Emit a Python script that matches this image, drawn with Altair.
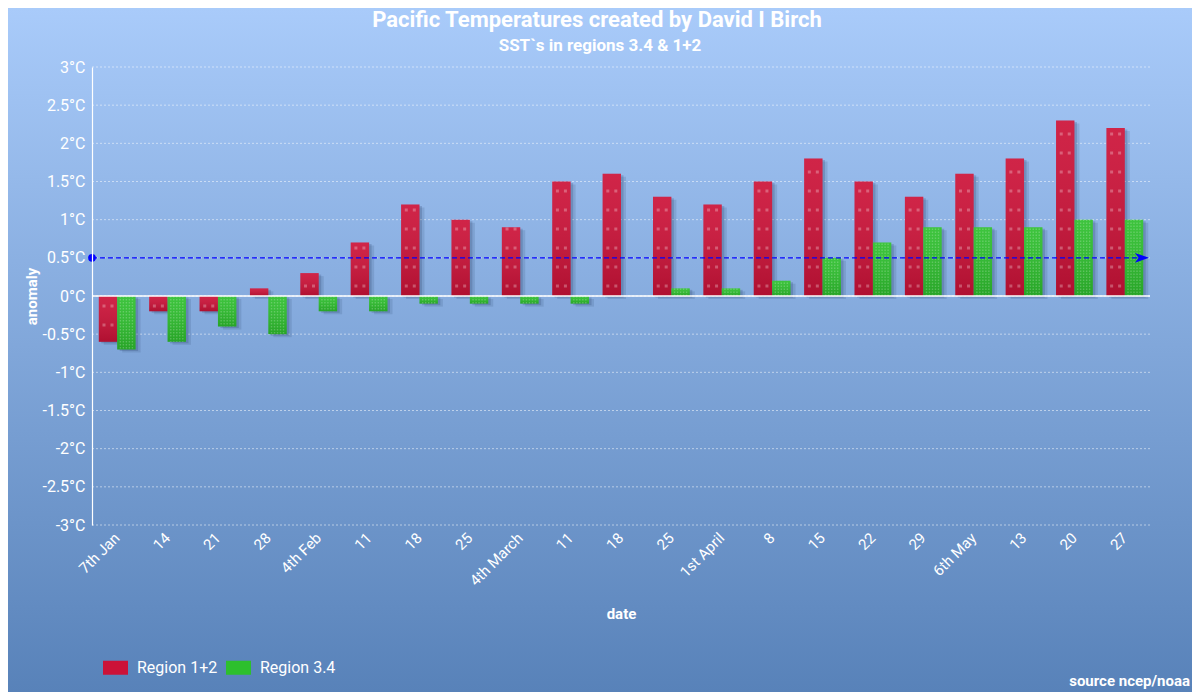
import altair as alt
import pandas as pd

labels = ["7th Jan", "14", "21", "28", "4th Feb", "11", "18", "25", "4th March",
          "11", "18", "25", "1st April", "8", "15", "22", "29", "6th May", "13", "20", "27"]
region12 = [-0.6, -0.2, -0.2, 0.1, 0.3, 0.7, 1.2, 1.0, 0.9, 1.5, 1.6, 1.3, 1.2,
            1.5, 1.8, 1.5, 1.3, 1.6, 1.8, 2.3, 2.2]
region34 = [-0.7, -0.6, -0.4, -0.5, -0.2, -0.2, -0.1, -0.1, -0.1, -0.1, 0.0, 0.1, 0.1,
            0.2, 0.5, 0.7, 0.9, 0.9, 0.9, 1.0, 1.0]
series = ["Region 1+2", "Region 3.4"]
colors = ["#cc1238", "#2dbf2d"]
yticks = [-3, -2.5, -2, -1.5, -1, -0.5, 0, 0.5, 1, 1.5, 2, 2.5, 3]
ref_value = [0.5]
title_text = "Pacific  Temperatures created by David I Birch"
subtitle_text = "SST`s in regions 3.4 & 1+2"
source_text = "source ncep/noaa"

W, H = 1058, 458
PL, PT, PR, PB = 84, 59, 42, 167
PAD_IN = 0.27
BW = W / 21 * (1 - PAD_IN)  # width of one group band

rows = []
for i, lab in enumerate(labels):
    rows.append({"idx": i, "region": series[0], "value": region12[i], "base": 0.0})
    rows.append({"idx": i, "region": series[1], "value": region34[i], "base": 0.0})
df = pd.DataFrame(rows)
one = pd.DataFrame({"v": ref_value})
grid_df = pd.DataFrame({"v": yticks})

label_expr = "[" + ",".join("'%s'" % l for l in labels) + "][datum.value]"

yscale = alt.Scale(domain=[-3, 3])
yaxis = alt.Axis(values=yticks, labelExpr="datum.value + '°C'", grid=False, domainColor="white",
                 domainWidth=1.2, ticks=False, labelColor="white", labelFontSize=16, labelPadding=7,
                 labelOverlap=False, title="anomaly", titleColor="white", titleFontSize=15,
                 titleFontWeight="bold", titleX=-56, titleY=H / 2, titleBaseline="alphabetic", zindex=1)
xenc = alt.X("idx:O", scale=alt.Scale(paddingInner=PAD_IN, paddingOuter=PAD_IN / 2),
             axis=alt.Axis(labelExpr=label_expr, labelAngle=315, labelAlign="right", labelBaseline="middle",
                           labelPadding=10, labelColor="white", labelFontSize=15, domain=False, ticks=False,
                           grid=False, title="date", titleColor="white", titleFontSize=15,
                           titleFontWeight="bold", titleY=81, zindex=1))
yenc = alt.Y("value:Q", scale=yscale, axis=yaxis)


def xoff(shift=0.0):
    return alt.XOffset("region:N", sort=series,
                       scale=alt.Scale(domain=series, range=[shift, BW + shift]))


bg = alt.Chart(pd.DataFrame({"a": [0]})).mark_rect(
    color=alt.LinearGradient(
        gradient="linear",
        stops=[alt.GradientStop(color="#a9cbfa", offset=0),
               alt.GradientStop(color="#5882b9", offset=1)],
        x1=0, x2=0, y1=0, y2=1)
).encode(x=alt.value(-PL), x2=alt.value(W + PR), y=alt.value(-PT), y2=alt.value(H + PB))

grid = alt.Chart(grid_df).mark_rule(color="white", strokeOpacity=0.5, strokeDash=[2, 2], strokeWidth=1).encode(
    y=alt.Y("v:Q", scale=yscale, axis=yaxis), x=alt.value(0), x2=alt.value(W))

shadow1 = alt.Chart(df).mark_bar(color="#14264d", opacity=0.12, yOffset=3).encode(
    x=xenc, xOffset=xoff(5), y=yenc)
shadow2 = alt.Chart(df).mark_bar(color="#14264d", opacity=0.18, yOffset=1.5).encode(
    x=xenc, xOffset=xoff(2.5), y=yenc)

bars = alt.Chart(df).mark_bar().encode(
    x=xenc,
    xOffset=xoff(0),
    y=yenc,
    color=alt.Color("region:N", scale=alt.Scale(domain=series, range=colors),
                    legend=alt.Legend(title=None, orient="none", legendX=11, legendY=588, direction="horizontal",
                                      symbolType="M-1,-0.56H1V0.56H-1Z", symbolSize=625, symbolStrokeWidth=0,
                                      symbolOpacity=1, labelColor="white", labelFontSize=16, labelOffset=9,
                                      columnPadding=8, zindex=1)),
)

shade = alt.Chart(df).mark_bar(
    color=alt.LinearGradient(
        gradient="linear",
        stops=[alt.GradientStop(color="rgba(255,255,255,0.08)", offset=0),
               alt.GradientStop(color="rgba(0,0,0,0.14)", offset=1)],
        x1=0, x2=0, y1=0, y2=1)
).encode(x=xenc, xOffset=xoff(0), y=yenc)

red_df = df[df["region"] == series[0]]
green_df = df[df["region"] == series[1]]

texture = []
for s in (-4, 4):
    texture.append(alt.Chart(red_df).mark_rule(color="white", opacity=0.28, strokeWidth=3,
                                               strokeDash=[3, 16], strokeDashOffset=10.5).encode(
        x=xenc, xOffset=xoff(s), y=alt.Y("base:Q", scale=yscale, axis=yaxis), y2=alt.Y2("value")))
for s in (-6, -3, 0, 3, 6):
    texture.append(alt.Chart(green_df).mark_rule(color="white", opacity=0.22, strokeWidth=1.4,
                                                 strokeDash=[1.4, 1.6]).encode(
        x=xenc, xOffset=xoff(s), y=alt.Y("base:Q", scale=yscale, axis=yaxis), y2=alt.Y2("value")))

zero = alt.Chart(one).mark_rule(color="white", strokeWidth=1.5).encode(
    y=alt.datum(0, scale=yscale, axis=yaxis), x=alt.value(0), x2=alt.value(W))
dash = alt.Chart(one).mark_rule(color="#0000ff", strokeDash=[5, 3], strokeWidth=1.2).encode(
    y=alt.Y("v:Q", scale=yscale, axis=yaxis), x=alt.value(0), x2=alt.value(W - 4))
dot = alt.Chart(one).mark_point(shape="circle", filled=True, size=60, color="#0000ff", opacity=1).encode(
    y=alt.Y("v:Q", scale=yscale, axis=yaxis), x=alt.value(0))
arrow = alt.Chart(one).mark_point(shape="M-1,-0.7L1,0L-1,0.7L-0.5,0Z", filled=True, size=196,
                                  color="#0000ff", opacity=1).encode(
    y=alt.Y("v:Q", scale=yscale, axis=yaxis), x=alt.value(W - 8))
title = alt.Chart(one).mark_text(text=title_text, color="white", fontSize=22, fontWeight="bold",
                                 align="center", baseline="middle").encode(x=alt.value(505), y=alt.value(-47))
subtitle = alt.Chart(one).mark_text(text=subtitle_text, color="white", fontSize=17, fontWeight="bold",
                                    align="center", baseline="middle").encode(x=alt.value(508), y=alt.value(-21))
source = alt.Chart(one).mark_text(text=source_text, color="white", fontSize=15, fontWeight="bold",
                                  align="right", baseline="middle").encode(x=alt.value(W + PR - 2), y=alt.value(614))

chart = alt.layer(bg, grid, shadow1, shadow2, bars, shade, *texture, zero, dash, dot, arrow,
                  title, subtitle, source).resolve_scale(xOffset="independent").properties(
    width=W, height=H,
    padding={"left": PL, "top": PT, "right": PR, "bottom": PB},
    autosize=alt.AutoSizeParams(type="none"),
).configure_view(strokeWidth=0).configure(background="#7fa6dc", font="Roboto")

chart.save("out.html", embed_options={"renderer": "svg", "actions": False})
